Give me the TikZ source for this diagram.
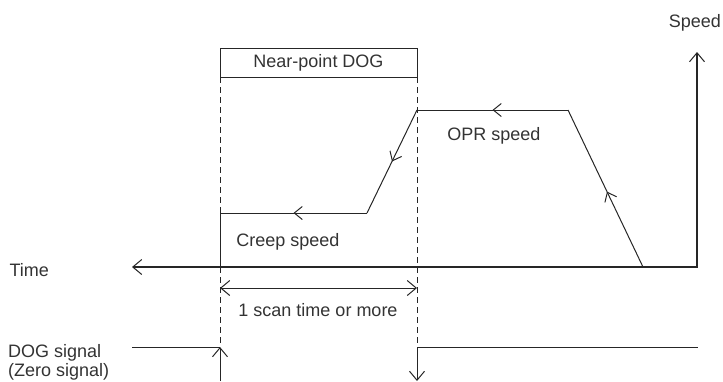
\documentclass[tikz,border=0pt]{standalone}
\usepackage{fontspec}
\setmainfont{Liberation Sans}
\usetikzlibrary{arrows.meta,decorations.markings}
\begin{document}
\begin{tikzpicture}[x=1pt,y=-1pt,
  every node/.style={font=\fontsize{18}{21}\selectfont, text=black!80},
  ln/.style={draw=black!85, line width=1pt},
  axis/.style={draw=black!85, line width=1.7pt},
  dsh/.style={draw=black!85, line width=1pt, dash pattern=on 6pt off 4pt},
  tip/.style={arrows={-Straight Barb[length=9pt,width=15pt,line width=1pt]}},
  dtip/.style={arrows={Straight Barb[length=9pt,width=15pt,line width=1pt]-Straight Barb[length=9pt,width=15pt,line width=1pt]}},
  midarrow/.style={postaction={decorate},decoration={markings,
     mark=at position #1 with {\arrow{Straight Barb[length=8pt,width=13pt,line width=1pt]}}}}
]
\useasboundingbox (0,0) rectangle (723,381);
% key coordinates
\coordinate (o) at (697,267);
\coordinate (tend) at (132,267);
\coordinate (send) at (697,52);
\coordinate (a1) at (643,267);
\coordinate (a2) at (568,110);
\coordinate (a3) at (417,110);
\coordinate (a4) at (367,213);
\coordinate (a5) at (220,213);
\coordinate (a6) at (220,267);
\coordinate (l0) at (220,77);
\coordinate (r0) at (417,77);
\coordinate (lsig) at (220,347);
\coordinate (rsig) at (417,347);
\coordinate (lbot) at (220,381);
\coordinate (rbot) at (417,381);
\coordinate (sigl) at (132,347);
\coordinate (sigr) at (698,347);
\coordinate (s1) at (220,288);
\coordinate (s2) at (417,288);

% near-point DOG box
\node[ln, minimum width=197pt, minimum height=29pt, inner sep=0pt] (dog) at (318.5,62.5) {Near-point DOG};

% dashed guides
\draw[dsh] (l0) -- (a5);
\draw[dsh] (a6) -- (lsig);
\draw[dsh] (r0) -- (rsig);

% axes
\draw[axis, dtip] (tend) -- (o) -- (send);

% speed profile
\draw[ln, midarrow=0.48] (a1) -- (a2);
\draw[ln, midarrow=0.5] (a2) -- (a3);
\draw[ln, midarrow=0.5] (a3) -- (a4);
\draw[ln, midarrow=0.5] (a4) -- (a5);
\draw[ln] (a5) -- (a6);

% scan time
\draw[ln, dtip] (s1) -- (s2);

% DOG signal
\draw[ln] (sigl) -- (lsig);
\draw[ln, tip] (lbot) -- (lsig);
\draw[ln, tip] (rsig) -- (rbot);
\draw[ln] (rsig) -- (sigr);

% labels
\node[anchor=east, inner sep=0pt] (speed) at (721,23) {Speed};
\node[anchor=west] (time) at (6,270) {Time};
\node (creep) at (288,242) {Creep speed};
\node (opr) at (494,136) {OPR speed};
\node (scan) at (318,310) {1 scan time or more};
\node[anchor=north west, align=left, inner sep=0pt, font=\fontsize{18}{19.5}\selectfont] (dogsig) at (8,344) {DOG signal\\(Zero signal)};
\end{tikzpicture}
\end{document}
